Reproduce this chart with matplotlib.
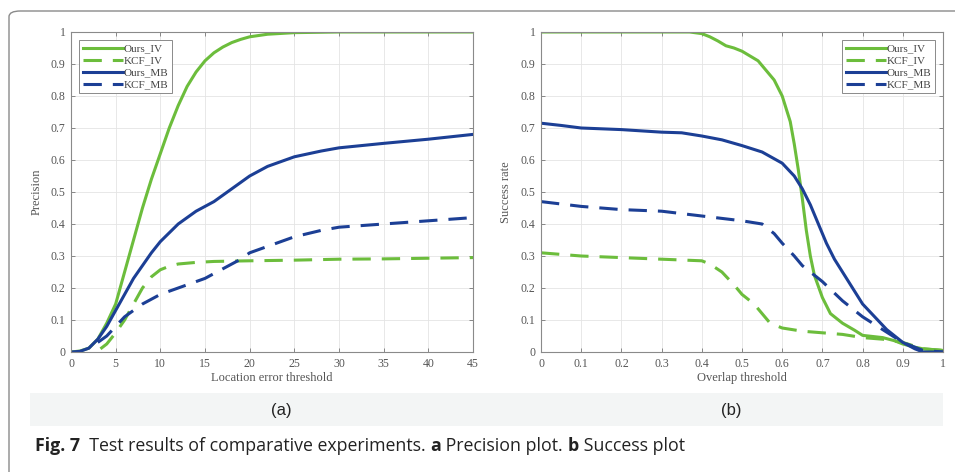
import matplotlib
matplotlib.use("Agg")
import matplotlib.pyplot as plt
from matplotlib.patches import FancyBboxPatch, Rectangle
import numpy as np

# ---------------- data ----------------
prec_x_ours_iv = [0, 1, 2, 3, 4, 5, 6, 7, 8, 9, 10, 11, 12, 13, 14, 15, 16, 17, 18, 19, 20, 22, 25, 30, 35, 40, 45]
prec_y_ours_iv = [0, 0.003, 0.012, 0.04, 0.09, 0.15, 0.25, 0.35, 0.45, 0.54, 0.62, 0.70, 0.77, 0.83, 0.875, 0.91, 0.935, 0.953, 0.967, 0.977, 0.985, 0.993, 0.998, 1.0, 1.0, 1.0, 1.0]

prec_x_kcf_iv = [3.3, 4, 5, 6, 7, 8, 9, 10, 11, 12, 14, 16, 20, 25, 30, 35, 40, 45]
prec_y_kcf_iv = [0.01, 0.025, 0.06, 0.10, 0.15, 0.20, 0.235, 0.257, 0.268, 0.275, 0.28, 0.283, 0.285, 0.287, 0.29, 0.291, 0.293, 0.295]

prec_x_ours_mb = [0, 1, 2, 3, 4, 5, 6, 7, 8, 9, 10, 12, 14, 16, 18, 20, 22, 25, 28, 30, 35, 40, 45]
prec_y_ours_mb = [0, 0.002, 0.012, 0.04, 0.08, 0.13, 0.18, 0.23, 0.27, 0.31, 0.345, 0.40, 0.44, 0.47, 0.51, 0.55, 0.58, 0.61, 0.628, 0.638, 0.652, 0.665, 0.68]

prec_x_kcf_mb = [3, 4, 5, 6, 7, 8, 10, 12, 15, 17, 19, 20, 22, 25, 28, 30, 35, 40, 45]
prec_y_kcf_mb = [0.03, 0.05, 0.08, 0.11, 0.13, 0.15, 0.18, 0.20, 0.23, 0.26, 0.29, 0.31, 0.33, 0.36, 0.38, 0.39, 0.40, 0.41, 0.42]

succ_x_ours_iv = [0, 0.1, 0.2, 0.3, 0.37, 0.4, 0.42, 0.44, 0.46, 0.48, 0.5, 0.52, 0.54, 0.56, 0.58, 0.6, 0.62, 0.63, 0.64, 0.65, 0.66, 0.67, 0.68, 0.7, 0.72, 0.75, 0.78, 0.8, 0.85, 0.88, 0.9, 0.93, 0.95, 1.0]
succ_y_ours_iv = [1, 1, 1, 1, 1, 0.995, 0.985, 0.972, 0.957, 0.95, 0.94, 0.925, 0.91, 0.88, 0.85, 0.80, 0.72, 0.65, 0.57, 0.48, 0.38, 0.30, 0.24, 0.17, 0.12, 0.09, 0.068, 0.052, 0.045, 0.035, 0.025, 0.015, 0.01, 0.005]

succ_x_kcf_iv = [0, 0.1, 0.2, 0.3, 0.4, 0.42, 0.45, 0.48, 0.5, 0.53, 0.55, 0.57, 0.6, 0.65, 0.7, 0.75, 0.8, 0.85, 0.9, 0.95, 1.0]
succ_y_kcf_iv = [0.31, 0.30, 0.295, 0.29, 0.285, 0.275, 0.25, 0.21, 0.18, 0.15, 0.12, 0.09, 0.075, 0.065, 0.06, 0.055, 0.045, 0.04, 0.03, 0.01, 0.005]

succ_x_ours_mb = [0, 0.05, 0.1, 0.2, 0.3, 0.35, 0.4, 0.45, 0.5, 0.55, 0.6, 0.63, 0.65, 0.67, 0.69, 0.71, 0.73, 0.75, 0.78, 0.8, 0.83, 0.86, 0.9, 0.93, 0.95, 1.0]
succ_y_ours_mb = [0.715, 0.708, 0.70, 0.695, 0.687, 0.685, 0.675, 0.663, 0.645, 0.625, 0.59, 0.55, 0.51, 0.46, 0.40, 0.34, 0.29, 0.25, 0.19, 0.15, 0.11, 0.07, 0.03, 0.01, 0.0, 0.0]

succ_x_kcf_mb = [0, 0.1, 0.2, 0.3, 0.4, 0.5, 0.55, 0.58, 0.6, 0.63, 0.65, 0.7, 0.75, 0.8, 0.85, 0.9, 0.95, 1.0]
succ_y_kcf_mb = [0.47, 0.455, 0.445, 0.44, 0.425, 0.41, 0.40, 0.37, 0.34, 0.30, 0.27, 0.22, 0.16, 0.11, 0.07, 0.03, 0.005, 0.0]

labels = ["Ours_IV", "KCF_IV", "Ours_MB", "KCF_MB"]
prec_xticks = [0, 5, 10, 15, 20, 25, 30, 35, 40, 45]
succ_xticks = [0, 0.1, 0.2, 0.3, 0.4, 0.5, 0.6, 0.7, 0.8, 0.9, 1]
yticks = [0, 0.1, 0.2, 0.3, 0.4, 0.5, 0.6, 0.7, 0.8, 0.9, 1]

GREEN = "#6cbd3c"
BLUE = "#1c3f95"
W, H = 955, 472

fig = plt.figure(figsize=(W / 100, H / 100), dpi=100)
fig.patch.set_facecolor("white")

def fx(px):
    return px / W

def fy(py):
    return 1 - py / H

# outer border (open to right/bottom)
border = FancyBboxPatch((fx(9), fy(490)), fx(980), (490 - 11) / H,
                        boxstyle="round,pad=0,rounding_size=0.012",
                        transform=fig.transFigure, fill=False,
                        edgecolor="#8a8a8a", linewidth=1.0, clip_on=False)
fig.patches.append(border)

# grey label band
band = Rectangle((fx(30), fy(426)), fx(913), (426 - 393) / H,
                 transform=fig.transFigure, facecolor="#f3f5f5",
                 edgecolor="none")
fig.patches.append(band)

serif = "Liberation Serif"

def style_axes(ax, xticks, xlabel, ylabel, xlim):
    ax.set_xlim(*xlim)
    ax.set_ylim(0, 1)
    ax.set_xticks(xticks)
    ax.set_yticks(yticks)
    ax.set_xticklabels([("%g" % t) for t in xticks], fontfamily=serif, fontsize=8.5, color="#555555")
    ax.set_yticklabels([("%g" % t) for t in yticks], fontfamily=serif, fontsize=8.5, color="#555555")
    ax.tick_params(direction="in", length=3, width=0.6, top=True, right=True,
                   colors="#777777", labelcolor="#555555", pad=4)
    ax.grid(True, color="#e4e4e4", linewidth=0.6)
    ax.set_axisbelow(True)
    for s in ax.spines.values():
        s.set_color("#8a8a8a")
        s.set_linewidth(0.8)
    ax.set_xlabel(xlabel, fontfamily=serif, fontsize=9, color="#555555", labelpad=2)
    ax.set_ylabel(ylabel, fontfamily=serif, fontsize=9, color="#555555", labelpad=6)

dash = (6, 3.6)

axl = fig.add_axes([fx(71), fy(352), fx(402), 320 / H])
axl.plot(prec_x_ours_iv, prec_y_ours_iv, color=GREEN, lw=2.2, label=labels[0])
axl.plot(prec_x_kcf_iv, prec_y_kcf_iv, color=GREEN, lw=2.2, dashes=dash, label=labels[1])
axl.plot(prec_x_ours_mb, prec_y_ours_mb, color=BLUE, lw=2.2, label=labels[2])
axl.plot(prec_x_kcf_mb, prec_y_kcf_mb, color=BLUE, lw=2.2, dashes=dash, label=labels[3])
style_axes(axl, prec_xticks, "Location error threshold", "Precision", (0, 45))

axr = fig.add_axes([fx(541), fy(352), fx(402), 320 / H])
axr.plot(succ_x_ours_iv, succ_y_ours_iv, color=GREEN, lw=2.2, label=labels[0])
axr.plot(succ_x_kcf_iv, succ_y_kcf_iv, color=GREEN, lw=2.2, dashes=dash, label=labels[1])
axr.plot(succ_x_ours_mb, succ_y_ours_mb, color=BLUE, lw=2.2, label=labels[2])
axr.plot(succ_x_kcf_mb, succ_y_kcf_mb, color=BLUE, lw=2.2, dashes=dash, label=labels[3])
style_axes(axr, succ_xticks, "Overlap threshold", "Success rate", (0, 1))

for ax, loc in ((axl, "upper left"), (axr, "upper right")):
    leg = ax.legend(loc=loc, prop={"family": serif, "size": 8}, handlelength=3.6,
                    handletextpad=0.1, borderpad=0.35, labelspacing=0.2,
                    fancybox=False, framealpha=1, edgecolor="#8a8a8a",
                    borderaxespad=0.7)
    leg.get_frame().set_linewidth(0.7)
    for t in leg.get_texts():
        t.set_color("#444444")

# panel labels
fig.text(fx(281), fy(410), "(a)", ha="center", va="center", fontsize=12,
         fontfamily="Liberation Sans", color="#222222")
fig.text(fx(731), fy(410), "(b)", ha="center", va="center", fontsize=12,
         fontfamily="Liberation Sans", color="#222222")

# caption
fig.canvas.draw()
renderer = fig.canvas.get_renderer()
parts = [("Fig. 7", "bold"), ("  Test results of comparative experiments. ", "normal"),
         ("a", "bold"), (" Precision plot. ", "normal"), ("b", "bold"), (" Success plot", "normal")]
xpos = fx(35)
for txt, wt in parts:
    t = fig.text(xpos, fy(451), txt, ha="left", va="baseline", fontsize=12.8,
                 fontfamily="Open Sans", fontweight=wt, color="#222222")
    bb = t.get_window_extent(renderer=renderer)
    xpos += bb.width / W

fig.savefig("out.png", dpi=100, facecolor="white")
